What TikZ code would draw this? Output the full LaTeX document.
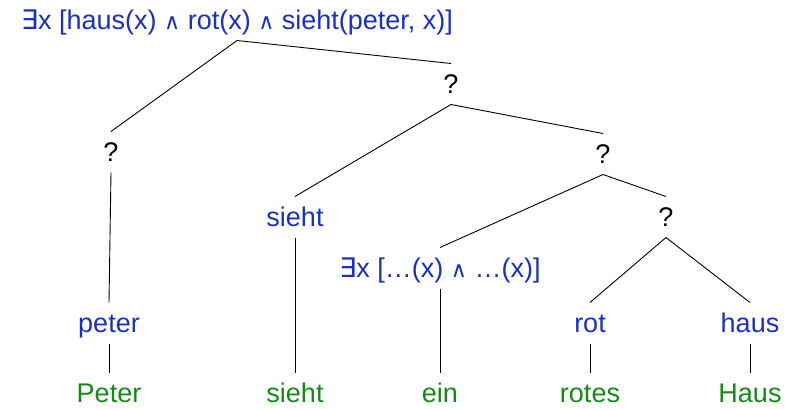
\documentclass[tikz,border=0pt]{standalone}
\usepackage{fontspec}
\setmainfont{Liberation Sans}
\newfontfamily\symfont{DejaVu Sans}
\definecolor{semblue}{RGB}{24,48,200}
\definecolor{wordgreen}{RGB}{20,140,20}
\newcommand{\exq}{{\symfont ∃}}
\newcommand{\und}{{\symfont\fontsize{22}{24}\selectfont ∧}}

\begin{document}
\begin{tikzpicture}[x=1pt,y=-1pt,
    tnode/.style={inner sep=0pt,outer sep=0pt,text height=21.5pt,text depth=3.5pt,minimum height=41pt,font=\fontsize{27}{31}\selectfont},
    sem/.style={tnode,text=semblue},
    word/.style={tnode,text=wordgreen},
    unk/.style={tnode,text=black}]
\useasboundingbox (0,0) rectangle (796,408);

\node[sem] (root) at (237,20) {\exq x [haus(x) \und{} rot(x) \und{} sieht(peter, x)]};
\node[unk] (q0) at (111,152) {?};
\node[unk] (q1) at (451,84) {?};
\node[unk] (q2) at (603,154) {?};
\node[unk] (q3) at (666,217) {?};
\node[sem] (sieht) at (295,217) {sieht};
\node[sem] (ex) at (440,268) {\exq x […(x) \und{} …(x)]};
\node[sem] (peter) at (109,323) {peter};
\node[sem] (rot) at (590,323) {rot};
\node[sem] (haus) at (750,323) {haus};
\node[word] (Peter) at (109,393) {Peter};
\node[word] (sieht2) at (295,393) {sieht};
\node[word] (ein) at (440,393) {ein};
\node[word] (rotes) at (590,393) {rotes};
\node[word] (Haus) at (750,393) {Haus};

\draw[line width=0.9pt] (root.south) -- (q0.north);
\draw[line width=0.9pt] (root.south) -- (q1.north);
\draw[line width=0.9pt] (q1.south) -- (sieht.north);
\draw[line width=0.9pt] (q1.south) -- (q2.north);
\draw[line width=0.9pt] (q2.south) -- (ex.north);
\draw[line width=0.9pt] (q2.south) -- (q3.north);
\draw[line width=0.9pt] (q3.south) -- (rot.north);
\draw[line width=0.9pt] (q3.south) -- (haus.north);
\draw[line width=0.9pt] (q0.south) -- (peter.north);
\draw[line width=0.9pt] (peter.south) -- (Peter.north);
\draw[line width=0.9pt] (sieht.south) -- (sieht2.north);
\draw[line width=0.9pt] (ex.south) -- (ein.north);
\draw[line width=0.9pt] (rot.south) -- (rotes.north);
\draw[line width=0.9pt] (haus.south) -- (Haus.north);
\end{tikzpicture}
\end{document}
